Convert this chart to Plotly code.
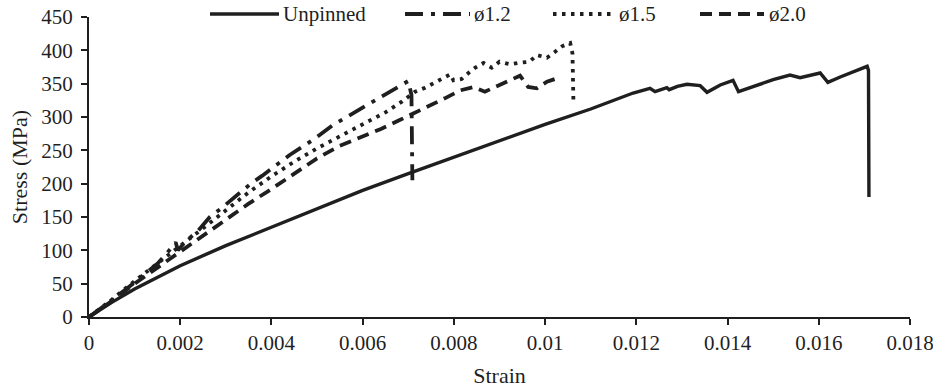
import plotly.graph_objects as go

# ---------------- data ----------------
unpinned_strain = [0, 0.0005, 0.001, 0.0015, 0.002, 0.003, 0.004, 0.005, 0.006, 0.007, 0.008,
                   0.009, 0.010, 0.011, 0.0116, 0.01193, 0.0123, 0.01241, 0.01267, 0.01272, 0.0129,
                   0.01311, 0.0134, 0.01355, 0.01384, 0.01412, 0.01424, 0.0145, 0.015, 0.01537,
                   0.01559, 0.01603, 0.0162, 0.01647, 0.01706, 0.01709, 0.0171]
unpinned_stress = [0, 22, 42, 60, 77, 107, 135, 163, 190, 215, 240,
                   264, 289, 312, 328, 336, 343, 338, 344, 341, 346,
                   349, 347, 337, 348, 355, 338, 344, 356, 363,
                   359, 366, 352, 360, 376, 370, 180]

d12_strain = [0, 0.0005, 0.001, 0.0013, 0.0015, 0.0017, 0.0019, 0.00195, 0.0021, 0.0024,
              0.00265, 0.0029, 0.0032, 0.00353, 0.0038, 0.0041, 0.0044, 0.00474, 0.0050,
              0.00535, 0.00568, 0.006, 0.00634, 0.00667, 0.0070, 0.00707, 0.00709]
d12_stress = [0, 25, 52, 68, 80, 95, 112, 100, 112, 130,
              150, 163, 180, 199, 212, 228, 243, 258, 270,
              288, 301, 315, 328, 341, 354, 333, 205]

d15_strain = [0, 0.0005, 0.001, 0.0015, 0.002, 0.0025, 0.003, 0.0035, 0.004, 0.0045, 0.005,
              0.0055, 0.006, 0.0065, 0.00686, 0.00715, 0.00737, 0.00755, 0.00774, 0.00792,
              0.00799, 0.00817, 0.00832, 0.00847, 0.00865, 0.00883, 0.009, 0.00924, 0.0094,
              0.00966, 0.00982, 0.01004, 0.01022, 0.01037, 0.01055, 0.0106, 0.01062]
d15_stress = [0, 26, 54, 80, 106, 133, 160, 187, 211, 233, 253,
              271, 288, 307, 323, 338, 344, 351, 358, 364,
              355, 357, 366, 374, 381, 374, 383, 379, 381,
              383, 393, 389, 398, 406, 411, 395, 326]

d20_strain = [0, 0.0005, 0.001, 0.0015, 0.002, 0.0025, 0.003, 0.0035, 0.004, 0.0045, 0.005,
              0.0055, 0.006, 0.0064, 0.0068, 0.00708, 0.0074, 0.0078, 0.00814, 0.00843,
              0.00868, 0.009, 0.00938, 0.00945, 0.00963, 0.00982, 0.01004, 0.01022]
d20_stress = [0, 24, 50, 74, 98, 122, 146, 170, 192, 215, 238,
              257, 271, 282, 295, 304, 315, 328, 340, 345,
              338, 348, 360, 362, 345, 343, 353, 357]

series_names = ["Unpinned", "ø1.2", "ø1.5", "ø2.0"]

x_tickvals = [0, 0.002, 0.004, 0.006, 0.008, 0.010, 0.012, 0.014, 0.016, 0.018]
x_ticktext = ["0", "0.002", "0.004", "0.006", "0.008", "0.01", "0.012", "0.014", "0.016", "0.018"]
y_tickvals = [0, 50, 100, 150, 200, 250, 300, 350, 400, 450]

# ---------------- styles ----------------
INK = "#1f1f1f"
FONT = "Liberation Serif"
dashes = ["solid", "18px,8px,4px,8px", "3.5px,5.5px", "12px,7px"]
widths = [3.4, 3.8, 3.8, 3.8]

fig = go.Figure()
data = [(unpinned_strain, unpinned_stress), (d12_strain, d12_stress),
        (d15_strain, d15_stress), (d20_strain, d20_stress)]
for (xs, ys), name, dsh, w in zip(data, series_names, dashes, widths):
    fig.add_trace(go.Scatter(x=xs, y=ys, mode="lines", name=name,
                             line=dict(color=INK, width=w, dash=dsh),
                             showlegend=False))

# ---------------- manual legend ----------------
L, R, T, B = 89, 23, 17, 72
W, H = 933, 389
pw, ph = W - L - R, H - T - B


def px2x(px):
    return (px - L) / pw


def py2y(py):
    return (H - B - py) / ph


legend_items = [(210, 279, 281), (405, 470, 472), (553, 614, 617), (700, 764, 767)]
ly = py2y(14)
for (x0, x1, xt), name, dsh, w in zip(legend_items, series_names, dashes, widths):
    fig.add_shape(type="line", xref="paper", yref="paper",
                  x0=px2x(x0), x1=px2x(x1), y0=ly, y1=ly,
                  line=dict(color=INK, width=w, dash=dsh))
    fig.add_annotation(xref="paper", yref="paper", x=px2x(xt), y=ly,
                       text=name, showarrow=False, xanchor="left", yanchor="middle",
                       font=dict(family=FONT, size=21, color=INK))

fig.update_layout(
    width=W, height=H,
    margin=dict(l=L, r=R, t=T, b=B, autoexpand=False),
    paper_bgcolor="white", plot_bgcolor="white",
    font=dict(family=FONT, size=21, color=INK),
    showlegend=False,
)
fig.update_xaxes(range=[0, 0.018], tickvals=x_tickvals, ticktext=x_ticktext,
                 showgrid=False, zeroline=False, showline=True, linecolor=INK, linewidth=2,
                 ticks="outside", ticklen=6, tickwidth=1.5, tickcolor=INK,
                 ticklabelstandoff=0, ticklabeloverflow="allow", automargin=False,
                 title=dict(text="Strain", font=dict(family=FONT, size=22, color=INK), standoff=13))
fig.update_yaxes(range=[0, 450], tickvals=y_tickvals,
                 showgrid=False, zeroline=False, showline=True, linecolor=INK, linewidth=2,
                 ticks="outside", ticklen=6, tickwidth=1.5, tickcolor=INK,
                 ticklabelstandoff=4, automargin=False,
                 title=dict(text="Stress (MPa)", font=dict(family=FONT, size=22, color=INK), standoff=8))

fig.write_html("out.html")
